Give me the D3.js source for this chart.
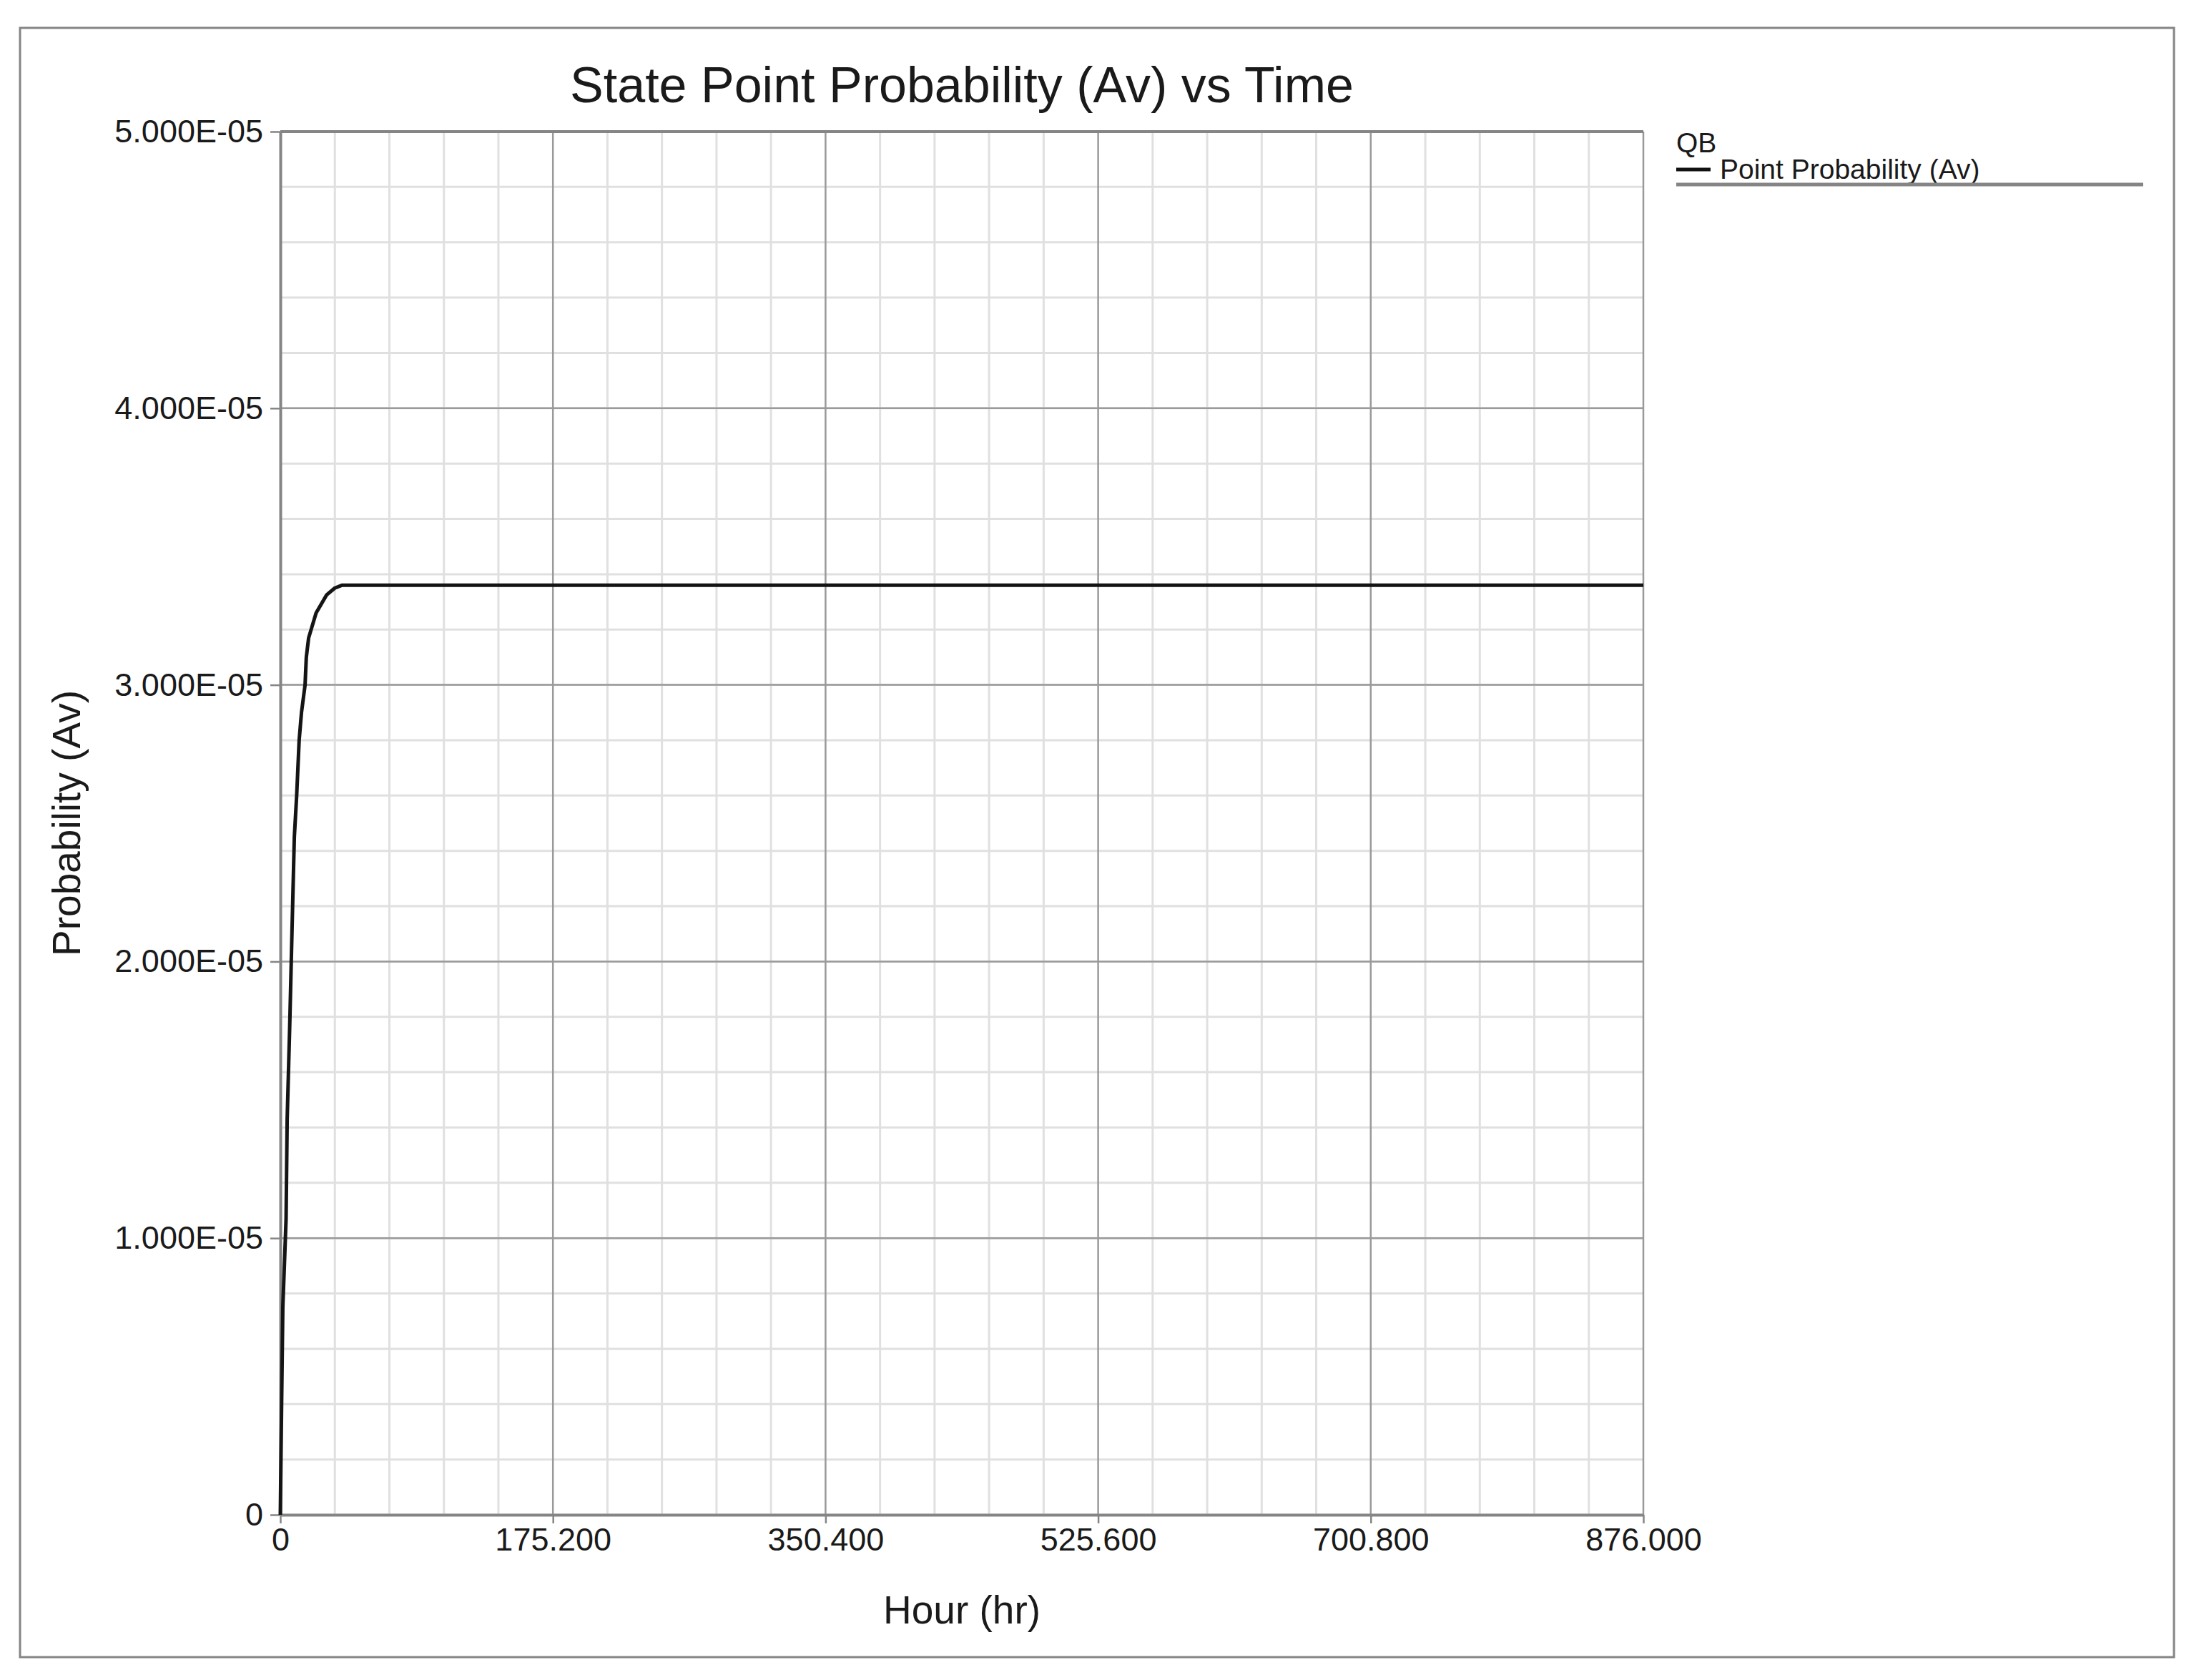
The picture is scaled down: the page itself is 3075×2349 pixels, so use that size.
<!DOCTYPE html>
<html>
<head>
<meta charset="utf-8">
<script src="https://cdn.jsdelivr.net/npm/d3@7"></script>
<style>
	body { margin: 0; background: #fff; }
	text { font-family: "Liberation Sans", Arial, sans-serif; fill: #1a1a1a; }
</style>
</head>
<body>
<div id="chart-container"></div>
<script>

// data
var hours = [0, 0.8, 1.6, 3.7, 4.4, 6.0, 7.5, 9.0, 10.5, 12.1, 13.6, 15.9, 16.7, 18.2, 23.0, 29.7, 35.0, 39.5, 876.0];
var probability = [0, 0.39e-5, 0.75e-5, 1.07e-5, 1.43e-5, 1.76e-5, 2.11e-5, 2.45e-5, 2.60e-5, 2.80e-5, 2.90e-5,
	3.00e-5, 3.10e-5, 3.17e-5, 3.26e-5, 3.325e-5, 3.35e-5, 3.36e-5, 3.36e-5];

var xTicks = [0, 175.2, 350.4, 525.6, 700.8, 876.0];
var xTickLabels = ["0", "175.200", "350.400", "525.600", "700.800", "876.000"];
var yTicks = [0, 1e-5, 2e-5, 3e-5, 4e-5, 5e-5];
var yTickLabels = ["0", "1.000E-05", "2.000E-05", "3.000E-05", "4.000E-05", "5.000E-05"];

var chartTitle = "State Point Probability (Av) vs Time",
	xTitle = "Hour (hr)",
	yTitle = "Probability (Av)",
	legendGroup = "QB",
	legendSeries = "Point Probability (Av)";

function whenDocumentLoaded(action) {
	if (document.readyState === "loading") {
		document.addEventListener("DOMContentLoaded", action);
	} else {
		action();
	}
}

whenDocumentLoaded(() => {
	var width = 3075,
		height = 2349,
		margin = {top: 184, right: 777, bottom: 231, left: 392},
		plotW = width - margin.left - margin.right,
		plotH = height - margin.top - margin.bottom;

	var svg = d3.select("#chart-container").append("svg")
		.attr("width", width)
		.attr("height", height)
		.style("background", "#fff");

	// outer frame
	svg.append("rect")
		.attr("x", 28).attr("y", 39)
		.attr("width", 3012).attr("height", 2278)
		.attr("fill", "none")
		.attr("stroke", "#858585")
		.attr("stroke-width", 3);

	var g = svg.append("g")
		.attr("transform", "translate(" + margin.left + "," + margin.top + ")");

	var x = d3.scaleLinear().domain([0, 876]).range([0, plotW]);
	var y = d3.scaleLinear().domain([0, 5e-5]).range([plotH, 0]);

	// minor grid
	var xMinor = d3.range(0, 876.01, 35.04).filter(d => xTicks.indexOf(+d.toFixed(1)) < 0);
	var yMinor = d3.range(0, 5.01e-5, 0.2e-5);

	g.append("g").selectAll("line").data(xMinor).enter().append("line")
		.attr("x1", d => x(d)).attr("x2", d => x(d))
		.attr("y1", 0).attr("y2", plotH)
		.attr("stroke", "#e0e0e0").attr("stroke-width", 3);
	g.append("g").selectAll("line").data(yMinor).enter().append("line")
		.attr("x1", 0).attr("x2", plotW)
		.attr("y1", d => y(d)).attr("y2", d => y(d))
		.attr("stroke", "#e0e0e0").attr("stroke-width", 3);

	// major grid
	g.append("g").selectAll("line").data(xTicks.slice(1)).enter().append("line")
		.attr("x1", d => x(d)).attr("x2", d => x(d))
		.attr("y1", 0).attr("y2", plotH)
		.attr("stroke", "#9a9a9a").attr("stroke-width", 2.5);
	g.append("g").selectAll("line").data(yTicks.slice(1)).enter().append("line")
		.attr("x1", 0).attr("x2", plotW)
		.attr("y1", d => y(d)).attr("y2", d => y(d))
		.attr("stroke", "#9a9a9a").attr("stroke-width", 2.5);

	// axes
	var xAxis = g.append("g")
		.attr("transform", "translate(0," + plotH + ")")
		.call(d3.axisBottom(x)
			.tickValues(xTicks)
			.tickFormat((d, i) => xTickLabels[i])
			.tickSize(12)
			.tickSizeOuter(0)
			.tickPadding(6));
	var yAxis = g.append("g")
		.call(d3.axisLeft(y)
			.tickValues(yTicks)
			.tickFormat((d, i) => yTickLabels[i])
			.tickSize(14)
			.tickSizeOuter(0)
			.tickPadding(10));

	[xAxis, yAxis].forEach(a => {
		a.select(".domain").attr("stroke", "#858585").attr("stroke-width", 4);
		a.selectAll(".tick line").attr("stroke", "#858585").attr("stroke-width", 2.5);
		a.selectAll(".tick text")
			.style("font-family", "'Liberation Sans', Arial, sans-serif")
			.style("font-size", "45px")
			.attr("fill", "#1a1a1a");
	});

	// top border
	g.append("line")
		.attr("x1", 0).attr("x2", plotW)
		.attr("y1", 0).attr("y2", 0)
		.attr("stroke", "#858585").attr("stroke-width", 4);

	// curve
	var points = hours.map((h, i) => ({hour: h, p: probability[i]}));
	var line = d3.line()
		.x(d => x(d.hour))
		.y(d => y(d.p));
	g.append("path")
		.datum(points)
		.attr("d", line)
		.attr("fill", "none")
		.attr("stroke", "#141414")
		.attr("stroke-width", 5)
		.attr("stroke-linejoin", "round");

	// titles
	svg.append("text")
		.attr("x", margin.left + plotW / 2)
		.attr("y", 143)
		.attr("text-anchor", "middle")
		.style("font-size", "70px")
		.attr("fill", "#111")
		.text(chartTitle);

	svg.append("text")
		.attr("x", margin.left + plotW / 2)
		.attr("y", 2270)
		.attr("text-anchor", "middle")
		.style("font-size", "55px")
		.text(xTitle);

	svg.append("text")
		.attr("transform", "translate(112," + (margin.top + plotH / 2) + ") rotate(-90)")
		.attr("text-anchor", "middle")
		.style("font-size", "55px")
		.text(yTitle);

	// legend
	var legend = svg.append("g").attr("transform", "translate(2344,0)");
	legend.append("text")
		.attr("x", 0).attr("y", 213)
		.style("font-size", "39px")
		.text(legendGroup);
	legend.append("line")
		.attr("x1", 0).attr("x2", 48)
		.attr("y1", 237).attr("y2", 237)
		.attr("stroke", "#111").attr("stroke-width", 5);
	legend.append("text")
		.attr("x", 61).attr("y", 250)
		.style("font-size", "39px")
		.text(legendSeries);
	legend.append("line")
		.attr("x1", 0).attr("x2", 653)
		.attr("y1", 258).attr("y2", 258)
		.attr("stroke", "#858585").attr("stroke-width", 5);
});
</script>
</body>
</html>
